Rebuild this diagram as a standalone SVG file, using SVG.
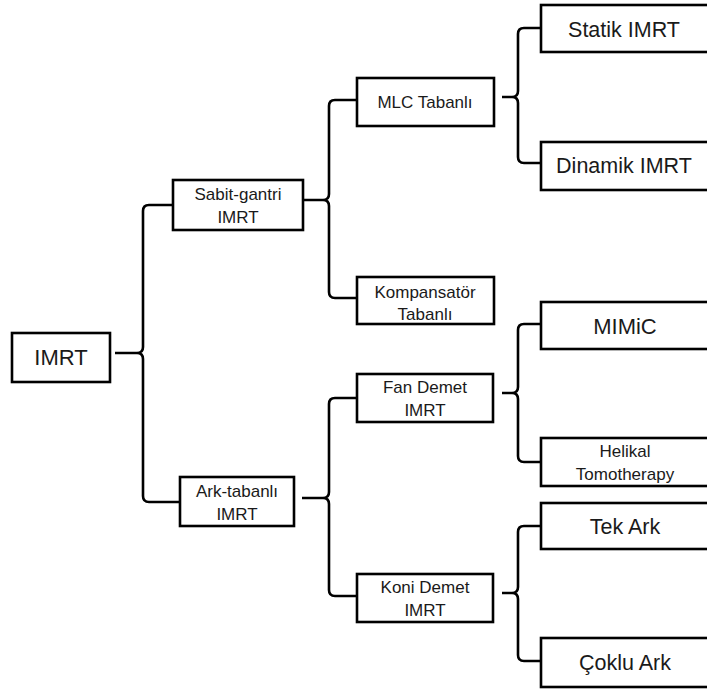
<svg xmlns="http://www.w3.org/2000/svg" width="707" height="690" viewBox="0 0 707 690">
<style>
rect{fill:#fff;stroke:#000;stroke-width:2.6}
.c path{fill:none;stroke:#000;stroke-width:2.6}
text{font-family:"Liberation Sans",Arial,sans-serif;text-anchor:middle;fill:#1a1a1a}
.s{font-size:17px}
.l{font-size:21.5px}
</style>
<rect x="0" y="0" width="707" height="690" style="stroke:none"/>
<g class="c" id="connectors">
<path d="M115,353 H137 M172,205 H149 Q143,205 143,211 V347 Q143,353 137,353 Q143,353 143,359 V496 Q143,502 149,502 H180"/>
<path d="M303,200 H323 M357,100 H335 Q329,100 329,106 V194 Q329,200 323,200 Q329,200 329,206 V292 Q329,298 335,298 H357"/>
<path d="M302,498 H323 M357,398 H335 Q329,398 329,404 V492 Q329,498 323,498 Q329,498 329,504 V590 Q329,596 335,596 H357"/>
<path d="M502,97 H512 M541,28 H524 Q518,28 518,34 V91 Q518,97 512,97 Q518,97 518,103 V157 Q518,163 524,163 H541"/>
<path d="M502,393 H512 M541,324 H524 Q518,324 518,330 V387 Q518,393 512,393 Q518,393 518,399 V456 Q518,462 524,462 H541"/>
<path d="M502,593 H512 M541,526 H524 Q518,526 518,532 V587 Q518,593 512,593 Q518,593 518,599 V655 Q518,661 524,661 H541"/>
</g>
<g id="imrt"><rect x="12" y="333" width="98" height="49"/><text class="l" x="61" y="365" style="font-size:22px">IMRT</text></g>
<g id="sabit"><rect x="173" y="180" width="130" height="50"/><text class="s" x="238" y="200">Sabit-gantri</text><text class="s" x="238" y="223">IMRT</text></g>
<g id="ark"><rect x="180" y="477" width="114" height="49"/><text class="s" x="237" y="497">Ark-tabanlı</text><text class="s" x="237" y="520">IMRT</text></g>
<g id="mlc"><rect x="357" y="78" width="137" height="48"/><text class="s" x="425" y="108">MLC Tabanlı</text></g>
<g id="komp"><rect x="357" y="277" width="137" height="47"/><text class="s" x="425" y="298">Kompansatör</text><text class="s" x="425" y="320">Tabanlı</text></g>
<g id="fan"><rect x="357" y="374" width="136" height="48"/><text class="s" x="425" y="393">Fan Demet</text><text class="s" x="425" y="416">IMRT</text></g>
<g id="koni"><rect x="357" y="574" width="136" height="48"/><text class="s" x="425" y="593">Koni Demet</text><text class="s" x="425" y="616">IMRT</text></g>
<g id="statik"><rect x="541" y="5" width="180" height="47"/><text class="l" x="624" y="37">Statik IMRT</text></g>
<g id="dinamik"><rect x="541" y="142" width="180" height="48"/><text class="l" x="624" y="173">Dinamik IMRT</text></g>
<g id="mimic"><rect x="541" y="302" width="180" height="47"/><text class="l" x="625" y="334" style="font-size:22px">MIMiC</text></g>
<g id="helikal"><rect x="541" y="438" width="180" height="48"/><text class="s" x="625" y="457">Helikal</text><text class="s" x="625" y="480">Tomotherapy</text></g>
<g id="tek"><rect x="541" y="503" width="180" height="46"/><text class="l" x="625" y="534">Tek Ark</text></g>
<g id="coklu"><rect x="541" y="638" width="180" height="49"/><text class="l" x="625" y="670">Çoklu Ark</text></g>
</svg>
